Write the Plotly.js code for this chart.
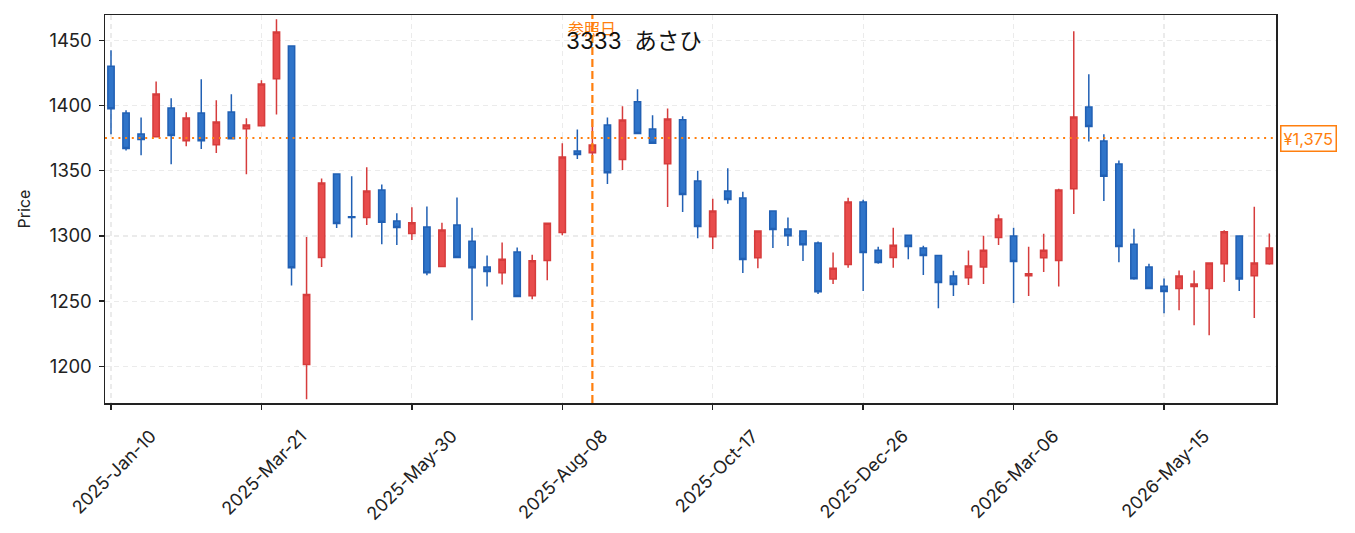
<!DOCTYPE html>
<html>
<head>
<meta charset="utf-8">
<script src="https://cdn.plot.ly/plotly-3.0.1.min.js"></script>
<style>html,body{margin:0;padding:0;background:#fff;}#chart{width:1355px;height:533px;}</style>
</head>
<body>
<div id="chart"></div>
<script>
const dates = [
"2025-01-10","2025-01-17","2025-01-24","2025-01-31","2025-02-07","2025-02-14","2025-02-21","2025-02-28","2025-03-07","2025-03-14",
"2025-03-21","2025-03-28","2025-04-04","2025-04-11","2025-04-18","2025-04-25","2025-05-02","2025-05-09","2025-05-16","2025-05-23",
"2025-05-30","2025-06-06","2025-06-13","2025-06-20","2025-06-27","2025-07-04","2025-07-11","2025-07-18","2025-07-25","2025-08-01",
"2025-08-08","2025-08-15","2025-08-22","2025-08-29","2025-09-05","2025-09-12","2025-09-19","2025-09-26","2025-10-03","2025-10-10",
"2025-10-17","2025-10-24","2025-10-31","2025-11-07","2025-11-14","2025-11-21","2025-11-28","2025-12-05","2025-12-12","2025-12-19",
"2025-12-26","2026-01-02","2026-01-09","2026-01-16","2026-01-23","2026-01-30","2026-02-06","2026-02-13","2026-02-20","2026-02-27",
"2026-03-06","2026-03-13","2026-03-20","2026-03-27","2026-04-03","2026-04-10","2026-04-17","2026-04-24","2026-05-01","2026-05-08",
"2026-05-15","2026-05-22","2026-05-29","2026-06-05","2026-06-12","2026-06-19","2026-06-26","2026-07-03"
];
const openP = [
1430.1,1394.2,1378.1,1376.1,1398.1,1373.0,1394.2,1370.0,1395.0,1382.2,
1384.5,1420.6,1445.7,1201.4,1283.5,1347.4,1314.8,1314.2,1335.2,1311.4,
1301.9,1306.8,1276.6,1308.3,1296.0,1276.1,1271.7,1287.6,1254.1,1281.2,
1302.7,1365.1,1363.8,1385.0,1358.7,1402.9,1382.0,1355.4,1389.1,1342.1,
1299.4,1334.4,1329.0,1283.3,1319.1,1305.3,1303.7,1294.5,1266.9,1278.1,
1326.0,1289.1,1283.5,1300.6,1290.7,1285.0,1269.2,1268.0,1276.1,1298.8,
1299.9,1269.4,1283.3,1281.2,1336.2,1398.8,1372.8,1355.1,1293.7,1276.1,
1261.5,1259.7,1261.3,1259.7,1278.6,1299.9,1269.4,1278.6
];
const highP = [
1442.3,1396.3,1390.9,1418.5,1405.5,1394.8,1420.1,1404.0,1408.6,1390.2,
1419.3,1466.1,1445.7,1299.1,1344.1,1347.4,1345.7,1352.6,1339.5,1317.3,
1321.9,1322.6,1310.1,1329.5,1306.3,1285.0,1295.0,1291.2,1285.5,1309.8,
1371.0,1381.7,1389.4,1390.9,1399.4,1412.4,1392.5,1397.8,1391.7,1350.0,
1328.5,1351.8,1333.9,1303.7,1319.1,1314.2,1303.7,1295.8,1287.3,1329.3,
1327.8,1291.7,1306.3,1300.6,1292.5,1285.0,1273.3,1288.9,1300.1,1316.5,
1306.3,1291.7,1301.7,1336.2,1456.9,1423.9,1377.9,1357.9,1305.5,1278.6,
1267.4,1273.5,1273.5,1279.2,1304.3,1299.9,1322.4,1301.9
];
const lowP = [
1377.9,1365.6,1361.8,1376.1,1354.9,1368.7,1366.6,1363.6,1374.6,1347.2,
1384.5,1393.2,1262.0,1174.8,1276.1,1306.0,1298.8,1308.3,1293.7,1293.0,
1296.8,1269.9,1276.6,1283.5,1235.4,1261.3,1262.8,1253.6,1251.5,1266.1,
1300.6,1359.0,1358.0,1339.8,1350.5,1378.6,1371.0,1322.1,1318.3,1298.3,
1289.9,1324.7,1271.5,1275.3,1290.7,1292.2,1280.7,1255.4,1263.1,1275.6,
1257.7,1278.6,1275.6,1282.2,1270.0,1244.6,1253.9,1262.3,1263.1,1293.0,
1248.5,1253.9,1272.3,1261.3,1316.8,1372.5,1326.7,1279.9,1266.4,1259.7,
1240.8,1243.1,1231.6,1223.9,1264.6,1257.7,1237.0,1277.9
];
const closeP = [
1397.6,1367.1,1374.0,1408.8,1377.1,1390.4,1373.0,1387.3,1374.6,1385.0,
1416.5,1456.4,1275.6,1255.1,1340.5,1309.6,1314.2,1334.4,1310.4,1306.5,
1310.1,1271.7,1304.5,1283.5,1275.6,1272.8,1282.2,1253.6,1281.0,1309.8,
1360.5,1362.5,1369.7,1348.5,1388.9,1378.6,1371.0,1389.6,1331.8,1307.3,
1319.1,1328.0,1282.0,1303.7,1305.0,1300.1,1293.2,1257.2,1275.3,1326.0,
1287.3,1279.7,1292.9,1291.9,1285.0,1264.3,1262.8,1276.9,1289.1,1312.9,
1280.4,1271.0,1289.1,1335.2,1391.2,1384.0,1345.7,1291.9,1267.1,1259.7,
1257.4,1269.2,1263.1,1279.2,1303.2,1266.9,1279.2,1290.7
];
const tickDates = ["2025-01-10","2025-03-21","2025-05-30","2025-08-08","2025-10-17","2025-12-26","2026-03-06","2026-05-15"];
const tickLabels = ["2025-Jan-10","2025-Mar-21","2025-May-30","2025-Aug-08","2025-Oct-17","2025-Dec-26","2026-Mar-06","2026-May-15"];
const yTicks = [1200,1250,1300,1350,1400,1450];
const refDate = "2025-08-22";
const refPrice = 1375;
const refPriceLabel = "¥1,375";
const refDateLabel = "参照日";
const chartTitle = "3333  あさひ";

const FONT = 'Inter, "Noto Sans CJK JP", sans-serif';
const ORANGE = '#ff7f0e';

const trace = {
  type: 'candlestick',
  x: dates, open: openP, high: highP, low: lowP, close: closeP,
  increasing: {line: {color: '#d63c3c', width: 1.5}, fillcolor: '#e84c4c'},
  decreasing: {line: {color: '#2160b4', width: 1.5}, fillcolor: '#2f74c9'},
  whiskerwidth: 0,
  showlegend: false,
  hoverinfo: 'x+y'
};

const layout = {
  width: 1355, height: 533,
  margin: {l: 105, r: 79, t: 15, b: 130, pad: 0},
  paper_bgcolor: '#fff', plot_bgcolor: '#fff',
  font: {family: FONT, size: 16, color: '#222'},
  boxgap: 0.4,
  showlegend: false,
  xaxis: {
    type: 'date',
    automargin: false,
    range: ['2025-01-07 05:00', '2026-07-06 02:30'],
    rangeslider: {visible: false},
    tickmode: 'array', tickvals: tickDates, ticktext: tickLabels,
    tickangle: -45,
    ticklabelshift: 40, ticklabelstandoff: 9,
    tickfont: {family: FONT, size: 18, color: '#222'},
    ticks: 'outside', ticklen: 5, tickwidth: 1.5, tickcolor: '#222',
    showline: true, linecolor: '#222', linewidth: 1.5, mirror: true,
    showgrid: true, gridcolor: '#ebebeb', gridwidth: 1.2, griddash: '5px,4px',
    zeroline: false
  },
  yaxis: {
    automargin: false,
    range: [1171.9, 1469.4],
    tickmode: 'array', tickvals: yTicks,
    tickfont: {family: FONT, size: 18.5, color: '#222'},
    ticklabelstandoff: 3,
    ticks: 'outside', ticklen: 5, tickwidth: 1.5, tickcolor: '#222',
    showline: true, linecolor: '#222', linewidth: 1.5, mirror: true,
    showgrid: true, gridcolor: '#ebebeb', gridwidth: 1.2, griddash: '5px,4px',
    zeroline: false,
    title: {text: 'Price', font: {family: FONT, size: 16, color: '#222'}, standoff: 14}
  },
  shapes: [
    {type: 'line', xref: 'paper', x0: 0, x1: 1, yref: 'y', y0: refPrice, y1: refPrice,
     line: {color: ORANGE, width: 2, dash: '2px,4.7px'}},
    {type: 'line', xref: 'x', x0: refDate, x1: refDate, yref: 'paper', y0: 0, y1: 1,
     line: {color: ORANGE, width: 2.2, dash: '8px,4px'}}
  ],
  annotations: [
    {xref: 'x', x: refDate, yref: 'paper', y: 0.964, text: refDateLabel, showarrow: false,
     xanchor: 'center', yanchor: 'middle', font: {family: FONT, size: 16, color: ORANGE}},
    {xref: 'paper', x: 0.4519, yref: 'paper', y: 0.933, text: chartTitle, showarrow: false,
     xanchor: 'center', yanchor: 'middle', font: {family: FONT, size: 22.5, color: '#111'}},
    {xref: 'paper', x: 1, xanchor: 'left', xshift: 4, yref: 'y', y: refPrice, yanchor: 'middle',
     text: refPriceLabel, showarrow: false, bgcolor: '#fff', bordercolor: ORANGE, borderwidth: 1.5, borderpad: 2,
     font: {family: FONT, size: 16.5, color: ORANGE}}
  ]
};

Plotly.newPlot('chart', [trace], layout, {displayModeBar: false, staticPlot: true});
</script>
</body>
</html>
